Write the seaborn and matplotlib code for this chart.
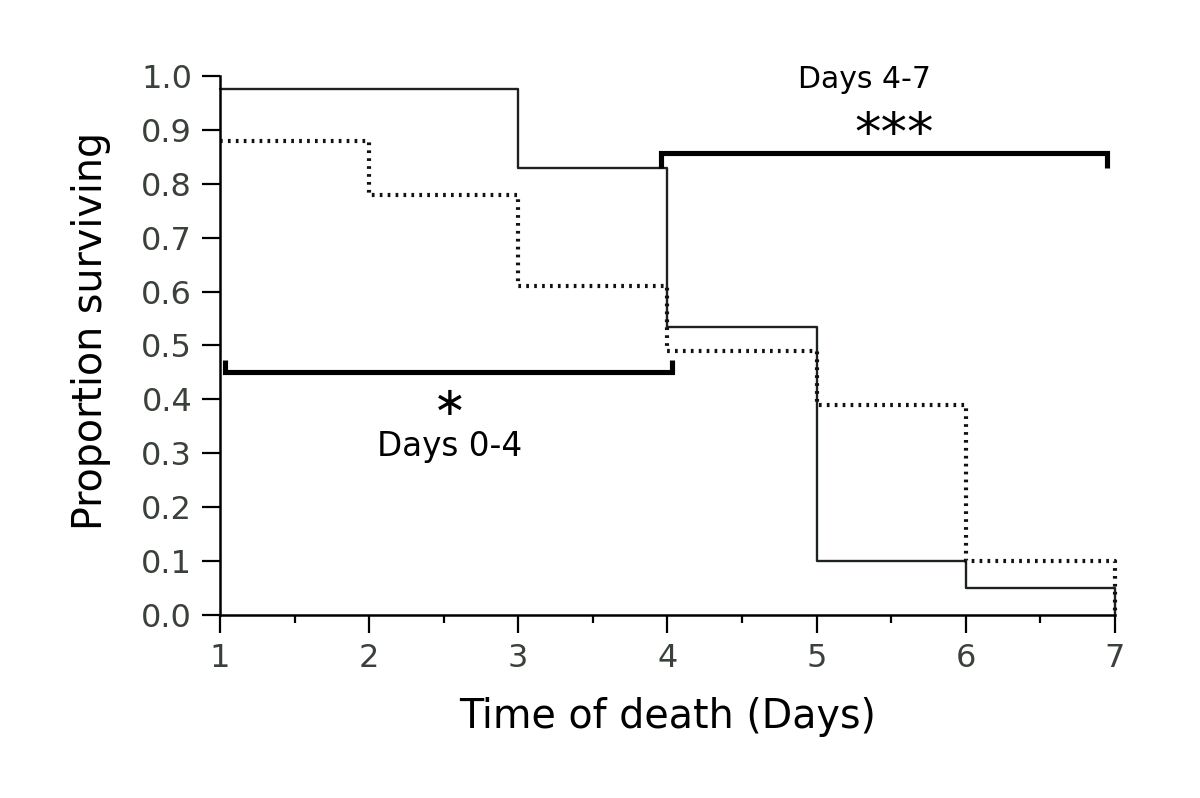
import numpy as np
import pandas as pd
import matplotlib
matplotlib.use("Agg")
import matplotlib.pyplot as plt
import seaborn as sns

# survival proportions, value held from each day until the next
days = [1, 2, 3, 4, 5, 6, 7]
solid_group = [0.975, 0.975, 0.83, 0.535, 0.10, 0.05, 0.05]
dotted_group = [0.88, 0.78, 0.61, 0.49, 0.39, 0.10, 0.10]

yticks = [0.0, 0.1, 0.2, 0.3, 0.4, 0.5, 0.6, 0.7, 0.8, 0.9, 1.0]
xticks = [1, 2, 3, 4, 5, 6, 7]

# comparison brackets: (x start, x end, y level, end tick)
bracket_early = (1.034, 4.03, 0.45, 0.023)
bracket_late = (3.96, 6.95, 0.857, -0.027)

sns.set_style("ticks")
plt.rcParams['font.family'] = ['DejaVu Sans']
plt.rcParams['text.color'] = 'black'
plt.rcParams['axes.labelcolor'] = 'black'

rows = []
for name, vals in [("solid", solid_group), ("dotted", dotted_group)]:
    xs = days + [days[-1]]
    ys = vals + [0.0]
    for x, y in zip(xs, ys):
        rows.append({"group": name, "day": x, "surv": y})
df = pd.DataFrame(rows)

fig = plt.figure(figsize=(12, 7.98), dpi=100)
ax = fig.add_axes([0.1833, 0.2293, 0.929 - 0.1833, 0.9048 - 0.2293])

sns.lineplot(data=df[df.group == "solid"], x="day", y="surv", estimator=None, sort=False,
             drawstyle="steps-post", color="#1c231c", lw=1.7, ax=ax, clip_on=False)
sns.lineplot(data=df[df.group == "dotted"], x="day", y="surv", estimator=None, sort=False,
             drawstyle="steps-post", color="#111111", lw=3.0, ax=ax, clip_on=False,
             linestyle=(0, (0.65, 1.25)))

for x0, x1, yb, d in [bracket_early, bracket_late]:
    ax.plot([x0, x0, x1, x1], [yb + d, yb, yb, yb + d], color="black", lw=3.7,
            solid_joinstyle="miter", solid_capstyle="butt", clip_on=False)

ax.text(5.32, 0.978, "Days 4-7", ha="center", va="baseline", fontsize=21.5)
ax.text(5.52, 0.89, "***", ha="center", va="center", fontsize=38)
# single star: asterisk operator sits lower in its box, so it clears the label below
ax.text(2.54, 0.392, "\u2217", ha="center", va="center", fontsize=29)
ax.text(2.54, 0.295, "Days 0-4", ha="center", va="baseline", fontsize=23.5)

ax.set_xlim(1, 7)
ax.set_ylim(0, 1.0)
ax.set_xticks(xticks)
ax.set_xticks(np.arange(1.5, 7, 1.0), minor=True)
ax.set_yticks(yticks)
ax.set_yticklabels([f"{v:.1f}" for v in yticks])

ax.tick_params(axis="both", which="major", length=13, width=1.6, labelsize=23,
               labelcolor="#3a403a", color="black", pad=7)
ax.tick_params(axis="x", which="minor", length=6, width=1.6, color="black")

sns.despine(ax=ax)
for s in ["left", "bottom"]:
    ax.spines[s].set_linewidth(1.8)
    ax.spines[s].set_color("black")

ax.set_xlabel("Time of death (Days)", fontsize=28.5)
ax.set_ylabel("Proportion surviving", fontsize=28.5)
ax.xaxis.set_label_coords(0.5, -0.152)
ax.yaxis.set_label_coords(-0.122, 0.527)

fig.savefig("out.png", dpi=100)
